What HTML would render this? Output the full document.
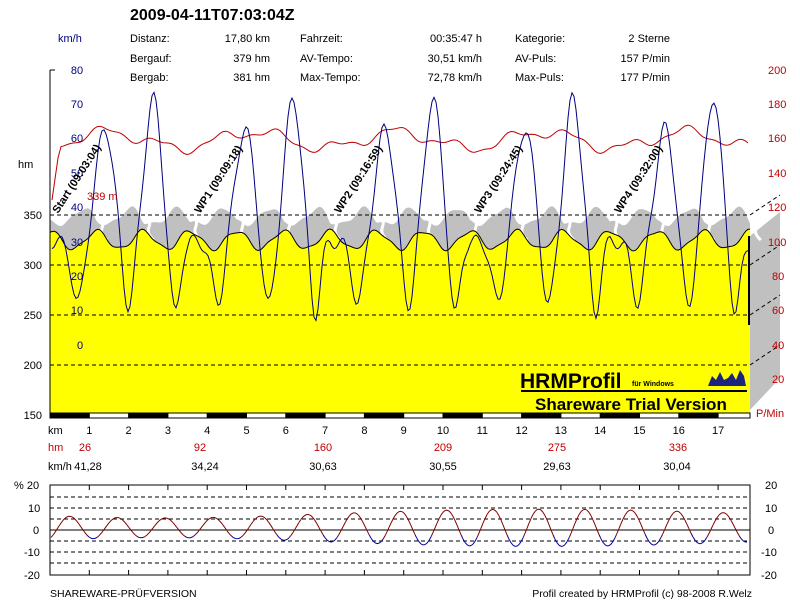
<!DOCTYPE html>
<html><head><meta charset="utf-8"><style>
body{margin:0;background:#fff;width:800px;height:600px;overflow:hidden}
svg{display:block;font-family:"Liberation Sans",Arial,sans-serif}
</style></head><body>
<svg id="s" width="800" height="600" xmlns="http://www.w3.org/2000/svg" font-size="11">
<rect width="800" height="600" fill="#fff"/>
<polygon points="750,236 780,212 780,378 750,410" fill="#c0c0c0"/>
<g id="gband"></g>
<g id="yel"></g>
<g stroke="#000" stroke-dasharray="4,3" stroke-width="1">
<line x1="50" y1="215" x2="750" y2="215"/><line x1="50" y1="265" x2="750" y2="265"/>
<line x1="50" y1="315" x2="750" y2="315"/><line x1="50" y1="365" x2="750" y2="365"/>
<line x1="750" y1="215" x2="780" y2="195"/><line x1="750" y1="265" x2="780" y2="245"/>
<line x1="750" y1="315" x2="780" y2="295"/><line x1="750" y1="365" x2="780" y2="345"/>
</g>
<g id="lines"></g>
<line x1="50" y1="70" x2="50" y2="413" stroke="#000"/>
<line x1="50" y1="70" x2="55" y2="70" stroke="#000"/>
<line x1="749" y1="236" x2="749" y2="325" stroke="#000" stroke-width="2"/>
<g id="kmbar"></g>
<text x="130" y="20" font-size="16" font-weight="bold">2009-04-11T07:03:04Z</text>
<text x="58" y="42" fill="#000080">km/h</text>
<text x="130" y="42">Distanz:</text><text x="270" y="42" text-anchor="end">17,80 km</text>
<text x="300" y="42">Fahrzeit:</text><text x="482" y="42" text-anchor="end">00:35:47 h</text>
<text x="515" y="42">Kategorie:</text><text x="670" y="42" text-anchor="end">2 Sterne</text>
<text x="130" y="62">Bergauf:</text><text x="270" y="62" text-anchor="end">379 hm</text>
<text x="300" y="62">AV-Tempo:</text><text x="482" y="62" text-anchor="end">30,51 km/h</text>
<text x="515" y="62">AV-Puls:</text><text x="670" y="62" text-anchor="end">157 P/min</text>
<text x="130" y="81">Bergab:</text><text x="270" y="81" text-anchor="end">381 hm</text>
<text x="300" y="81">Max-Tempo:</text><text x="482" y="81" text-anchor="end">72,78 km/h</text>
<text x="515" y="81">Max-Puls:</text><text x="670" y="81" text-anchor="end">177 P/min</text>
<g fill="#000080" text-anchor="middle">
<text x="77" y="74">80</text><text x="77" y="108">70</text><text x="77" y="142">60</text><text x="77" y="177">50</text>
<text x="77" y="211">40</text><text x="77" y="246">30</text><text x="77" y="280">20</text><text x="77" y="314">10</text><text x="80" y="349">0</text>
</g>
<text x="18" y="168">hm</text>
<g text-anchor="end"><text x="42" y="219">350</text><text x="42" y="269">300</text><text x="42" y="319">250</text><text x="42" y="369">200</text><text x="42" y="419">150</text></g>
<text x="87" y="200" fill="#c00000">339 m</text>
<g fill="#c00000"><text x="768" y="74">200</text><text x="768" y="108">180</text><text x="768" y="142">160</text><text x="768" y="177">140</text>
<text x="768" y="211">120</text><text x="768" y="246">100</text><text x="772" y="280">80</text><text x="772" y="314">60</text><text x="772" y="349">40</text><text x="772" y="383">20</text>
<text x="756" y="417">P/Min</text></g>
<g font-weight="bold" font-size="11">
<text transform="translate(58,214) rotate(-57)">Start (09:03:04)</text>
<text transform="translate(200,214) rotate(-57)">WP1 (09:09:18)</text>
<text transform="translate(340,214) rotate(-57)">WP2 (09:16:59)</text>
<text transform="translate(480,214) rotate(-57)">WP3 (09:24:45)</text>
<text transform="translate(620,214) rotate(-57)">WP4 (09:32:00)</text>
</g>
<text x="520" y="388" font-size="21" font-weight="bold">HRMProfil</text>
<text x="632" y="386" font-size="7" font-weight="bold">für Windows</text>
<polygon points="708,386 712,376 716,380 720,372 724,380 728,378 732,373 736,380 740,370 744,376 746,386" fill="#1a237e"/>
<line x1="521" y1="391" x2="747" y2="391" stroke="#000" stroke-width="2"/>
<text x="535" y="410" font-size="17" font-weight="bold">Shareware Trial  Version</text>
<text x="48" y="434">km</text>
<g id="kml" text-anchor="middle"></g>
<text x="48" y="451" fill="#c00000">hm</text>
<g fill="#c00000" text-anchor="middle"><text x="85" y="451">26</text><text x="200" y="451">92</text><text x="323" y="451">160</text><text x="443" y="451">209</text><text x="557" y="451">275</text><text x="678" y="451">336</text></g>
<text x="48" y="470">km/h</text>
<g text-anchor="middle"><text x="88" y="470">41,28</text><text x="205" y="470">34,24</text><text x="323" y="470">30,63</text><text x="443" y="470">30,55</text><text x="557" y="470">29,63</text><text x="677" y="470">30,04</text></g>
<g stroke="#000" stroke-dasharray="4,3"><line x1="50" y1="497" x2="750" y2="497"/><line x1="50" y1="508" x2="750" y2="508"/><line x1="50" y1="519" x2="750" y2="519"/><line x1="50" y1="541" x2="750" y2="541"/><line x1="50" y1="552" x2="750" y2="552"/><line x1="50" y1="563" x2="750" y2="563"/></g>
<line x1="50" y1="530" x2="750" y2="530" stroke="#000"/>
<rect x="50" y="485" width="700" height="90" fill="none" stroke="#000"/>
<g id="bt"></g>
<text x="14" y="489">% 20</text><text x="28" y="512">10</text><text x="33" y="534">0</text><text x="24" y="556">-10</text><text x="24" y="579">-20</text>
<text x="765" y="489">20</text><text x="765" y="512">10</text><text x="768" y="534">0</text><text x="761" y="556">-10</text><text x="761" y="579">-20</text>
<text x="50" y="597" font-size="10.5">SHAREWARE-PRÜFVERSION</text>
<text x="752" y="597" font-size="10.5" text-anchor="end">Profil created by HRMProfil (c) 98-2008 R.Welz</text>
</svg>
<script>
(function(){
var NS="http://www.w3.org/2000/svg";
function el(p,t,a){var e=document.createElementNS(NS,t);for(var k in a)e.setAttribute(k,a[k]);document.getElementById(p).appendChild(e);return e;}
function g(x,c,w){return Math.exp(-((x-c)*(x-c))/(2*w*w));}
function elev(x){var r=((x-50)%140+140)%140;return 240-9*Math.cos(r/140*2*Math.PI*3)+2*Math.sin(x*0.3);}
var tp=[];
for(var x=50;x<=750;x+=2){tp.push(x+","+elev(x).toFixed(1));}
var gp="50,413 "; for(var x=50;x<=750;x+=2){var r=((x-50)%140+140)%140;var rr=(r%46.7)/46.7;gp+=x+","+(elev(x+8)-14-14*Math.sin(rr*Math.PI)).toFixed(1)+" ";} gp+="750,413";
el("gband","polygon",{points:gp,fill:"#c0c0c0"});
for(var i=0;i<15;i++){var x0=100+i*46.7;el("gband","path",{d:"M"+x0+",210 q5,10 2,18 q-2,6 5,12",stroke:"#fff","stroke-width":3,fill:"none"});}
el("yel","polygon",{points:"50,413 "+tp.join(" ")+" 750,413",fill:"#ffff00"});
el("yel","polyline",{points:tp.join(" "),fill:"none",stroke:"#000","stroke-width":1});
var hr="";for(var x=52;x<=750;x+=3){var y=140+8*Math.sin(x/23)+5*Math.sin(x/9.3)+2*Math.sin(x/4.1);if(x<60)y=200-(x-52)*7;hr+=x+","+y.toFixed(1)+" ";}
el("lines","polyline",{points:hr,fill:"none",stroke:"#c00000","stroke-width":1});
var sp="";for(var x=52;x<=748;x+=2){var r=((x-50)%140+140)%140;
var v=30+33*g(r,55,9)+42*g(r,103,8)-18*g(r,28,6)-20*g(r,78,6)-22*g(r,125,5)+2*Math.sin(x/3);
sp+=x+","+(345-3.44*v).toFixed(1)+" ";}
el("lines","polyline",{points:sp,fill:"none",stroke:"#000080","stroke-width":1});
for(var k=0;k<18;k++){var x0=50+k*39.3;el("kmbar","rect",{x:x0,y:413,width:39.3,height:5,fill:k%2?"#fff":"#000"});
el("kmbar","line",{x1:x0,y1:413,x2:x0,y2:418,stroke:"#000"});
if(k>0){var t=el("kml","text",{x:x0,y:434});t.textContent=k;}}
el("kmbar","rect",{x:50,y:413,width:700,height:5,fill:"none",stroke:"#000"});
for(var k=1;k<18;k++){var x0=50+k*39.3;el("bt","line",{x1:x0,y1:485,x2:x0,y2:490,stroke:"#000"});el("bt","line",{x1:x0,y1:570,x2:x0,y2:575,stroke:"#000"});}
var px=null,py=null;
for(var x=51;x<=748;x+=2){var v=1+6.5*Math.sin((x-60)/46.7*2*Math.PI)+2*Math.sin(x/7);var y=530-2.2*v;
if(px!==null)el("bt","line",{x1:px,y1:py,x2:x,y2:y,stroke:v<-3?"#0000a0":"#800000"});px=x;py=y;}
})();
</script>
</body></html>
